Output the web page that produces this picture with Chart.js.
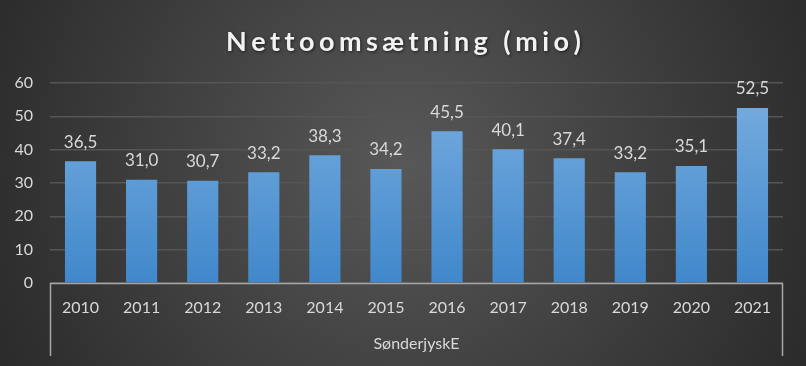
<!DOCTYPE html>
<html>
<head>
<meta charset="utf-8">
<script src="https://cdn.jsdelivr.net/npm/chart.js@4.4.0/dist/chart.umd.min.js"></script>
<style>
  html, body { margin: 0; padding: 0; background: #3a3a3a; }
  #wrap { width: 806px; height: 366px; }
</style>
</head>
<body>
<div id="wrap"><canvas id="salesChart" width="806" height="366"></canvas></div>
<script>
var years = ["2010", "2011", "2012", "2013", "2014", "2015", "2016", "2017", "2018", "2019", "2020", "2021"];
var revenue = [36.5, 31.0, 30.7, 33.2, 38.3, 34.2, 45.5, 40.1, 37.4, 33.2, 35.1, 52.5];
var groupLabel = ["SønderjyskE"];
var chartTitle = "Nettoomsætning (mio)";

var textColor = "#d9d9d9";
var fontFamily = "Lato, 'Open Sans', sans-serif";

// dark radial background like the Excel style
var backgroundPlugin = {
    id: "bg",
    beforeDraw: function (chart) {
        var ctx = chart.ctx;
        var w = chart.width, h = chart.height;
        ctx.save();
        var g = ctx.createRadialGradient(w / 2, h * 0.45, 10, w / 2, h * 0.45, w * 0.6);
        g.addColorStop(0, "#575757");
        g.addColorStop(1, "#272727");
        ctx.fillStyle = g;
        ctx.fillRect(0, 0, w, h);
        ctx.restore();
    }
};

// spaced-out title, drawn letter by letter
var titlePlugin = {
    id: "spacedTitle",
    afterDraw: function (chart) {
        var ctx = chart.ctx;
        ctx.save();
        ctx.font = "bold 27px " + fontFamily;
        ctx.fillStyle = "#f2f2f2";
        ctx.textBaseline = "middle";
        ctx.shadowColor = "rgba(0,0,0,0.6)";
        ctx.shadowBlur = 3;
        ctx.shadowOffsetX = 1;
        ctx.shadowOffsetY = 1;
        var chars = chartTitle.split("");
        var plain = ctx.measureText(chartTitle).width;
        var targetWidth = 352;
        var gap = (targetWidth - plain) / (chars.length - 1);
        var x = 226;
        chars.forEach(function (c) {
            ctx.fillText(c, x, 42);
            x += ctx.measureText(c).width + gap;
        });
        ctx.restore();
    }
};

// value labels above bars, danish decimal comma
var valueLabelPlugin = {
    id: "valueLabels",
    afterDatasetsDraw: function (chart) {
        var ctx = chart.ctx;
        var meta = chart.getDatasetMeta(0);
        ctx.save();
        ctx.font = "17px " + fontFamily;
        ctx.fillStyle = textColor;
        ctx.textAlign = "center";
        ctx.textBaseline = "middle";
        meta.data.forEach(function (bar, i) {
            ctx.fillText(revenue[i].toFixed(1).replace(".", ","), bar.x, bar.y - 19);
        });
        ctx.restore();
    }
};

// axis line and the two group separators under the category axis
var groupLinesPlugin = {
    id: "groupLines",
    afterDraw: function (chart) {
        var a = chart.chartArea;
        var ctx = chart.ctx;
        ctx.save();
        ctx.strokeStyle = "#a6a6a6";
        ctx.lineWidth = 1.5;
        ctx.beginPath();
        ctx.moveTo(a.left, a.bottom + 0.5);
        ctx.lineTo(a.right, a.bottom + 0.5);
        ctx.moveTo(a.left + 0.5, a.bottom);
        ctx.lineTo(a.left + 0.5, 356);
        ctx.moveTo(a.right - 0.5, a.bottom);
        ctx.lineTo(a.right - 0.5, 356);
        ctx.stroke();
        ctx.restore();
    }
};

var canvasElement = document.getElementById("salesChart");
var ctx2d = canvasElement.getContext("2d");

var config = {
    type: "bar",
    data: {
        labels: years,
        datasets: [
            {
                label: "Nettoomsætning",
                data: revenue,
                xAxisID: "x",
                backgroundColor: function (context) {
                    var area = context.chart.chartArea;
                    if (!area) return "#5b9bd5";
                    var g = ctx2d.createLinearGradient(0, area.top, 0, area.bottom);
                    g.addColorStop(0, "#7aaee0");
                    g.addColorStop(1, "#4088cb");
                    return g;
                },
                borderWidth: 0,
                categoryPercentage: 1.0,
                barPercentage: 0.51
            }
        ]
    },
    options: {
        responsive: false,
        animation: false,
        layout: { padding: { top: 83, right: 23, bottom: 8, left: 0 } },
        plugins: {
            legend: { display: false },
            title: { display: false },
            tooltip: { enabled: false }
        },
        scales: {
            x: {
                type: "category",
                position: "bottom",
                grid: { display: false, drawTicks: false },
                border: { display: false },
                ticks: { color: textColor, font: { family: fontFamily, size: 16 }, padding: 15, maxRotation: 0 },
                afterFit: function (scale) { scale.height = 44; }
            },
            x2: {
                type: "category",
                position: "bottom",
                labels: groupLabel,
                grid: { display: false, drawTicks: false },
                border: { display: false },
                ticks: { color: textColor, font: { family: fontFamily, size: 16 }, padding: 7 },
                afterFit: function (scale) { scale.height = 31; }
            },
            y: {
                min: 0,
                max: 60,
                ticks: { stepSize: 10, color: textColor, font: { family: fontFamily, size: 16 }, padding: 17 },
                grid: { color: "#555555", lineWidth: 1.5, drawTicks: false },
                border: { display: false },
                afterFit: function (scale) { scale.width = 50; }
            }
        }
    },
    plugins: [backgroundPlugin, valueLabelPlugin, groupLinesPlugin, titlePlugin]
};

var salesChart = new Chart(canvasElement, config);
</script>
</body>
</html>
